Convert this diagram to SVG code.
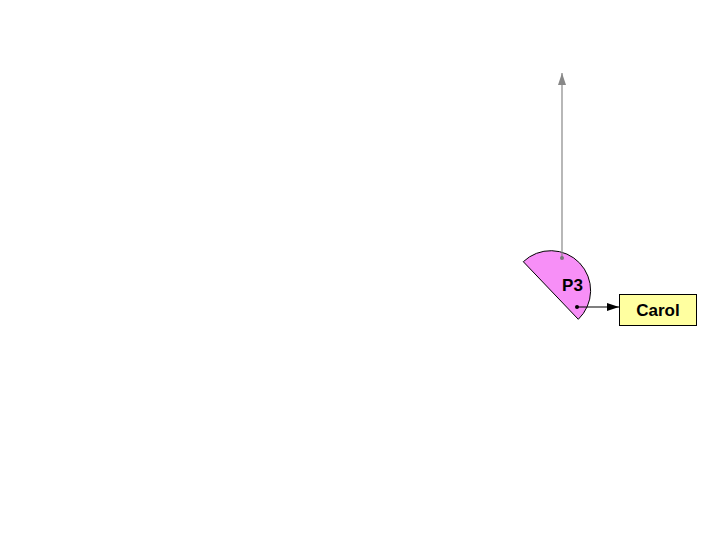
<svg xmlns="http://www.w3.org/2000/svg" width="708" height="556" viewBox="0 0 708 556">
<style>
.lbl{font-family:"Liberation Sans",Arial,sans-serif;font-weight:bold;fill:#000;text-anchor:middle;font-size:17px}
</style>
<defs>
<marker id="ag" markerWidth="12" markerHeight="8" refX="12" refY="4" orient="auto" markerUnits="userSpaceOnUse" viewBox="0 0 12 8">
<path d="M0,0 L12,4 L0,8 Z" fill="#888"/>
</marker>
<marker id="ab" markerWidth="12" markerHeight="8" refX="12" refY="4" orient="auto" markerUnits="userSpaceOnUse" viewBox="0 0 12 8">
<path d="M0,0 L12,4 L0,8 Z" fill="#000"/>
</marker>
</defs>
<rect width="708" height="556" fill="#fff"/>
<g id="P3">
<path d="M523.3,261.7 A39.8,39.8 0 0 1 578.3,319.3 Z" fill="#f78ff7" stroke="#000" stroke-width="1"/>
<text class="lbl" x="572.5" y="290.5">P3</text>
</g>
<g id="Carol">
<rect x="619.5" y="294.5" width="77" height="31" fill="#ffffa0" stroke="#000" stroke-width="1"/>
<text class="lbl" x="658" y="316">Carol</text>
</g>
<g id="connectors">
<line x1="562" y1="258" x2="562" y2="73" stroke="#888" stroke-width="1.2" marker-end="url(#ag)"/>
<circle cx="562" cy="258" r="2" fill="#777"/>
<line x1="577" y1="307" x2="619" y2="307" stroke="#000" stroke-width="1.2" marker-end="url(#ab)"/>
<circle cx="577" cy="307" r="2" fill="#000"/>
</g>
</svg>
